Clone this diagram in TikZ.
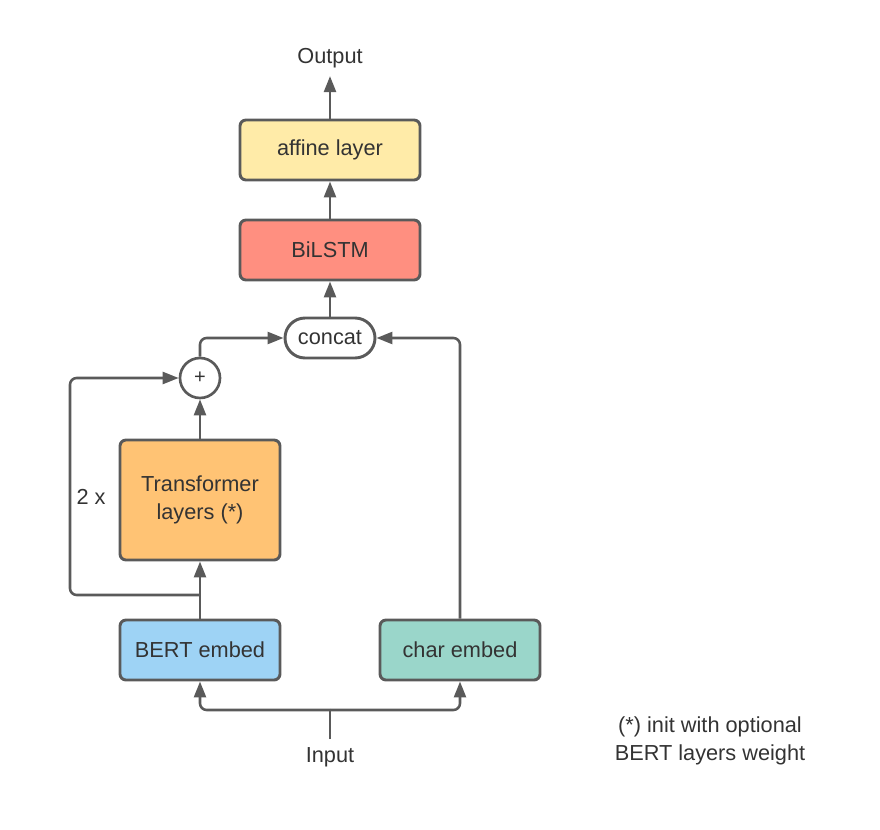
\documentclass[tikz,border=0pt]{standalone}
\usepackage{fontspec}
\setmainfont{Liberation Sans}
\usetikzlibrary{arrows.meta}

\definecolor{linegray}{HTML}{5A5A5A}
\definecolor{textgray}{HTML}{333333}
\definecolor{affinefill}{HTML}{FFEBA8}
\definecolor{lstmfill}{HTML}{FF8F80}
\definecolor{transfill}{HTML}{FFC374}
\definecolor{bertfill}{HTML}{9ED3F5}
\definecolor{charfill}{HTML}{9AD6CA}

\begin{document}
\begin{tikzpicture}[x=0.75pt, y=-0.75pt,
    every node/.style={text=textgray, font=\fontsize{16.3}{20.5}\selectfont},
    block/.style={draw=linegray, line width=2.2pt, rounded corners=4.5pt,
        minimum width=120pt, minimum height=45pt, align=center},
    pill/.style={draw=linegray, line width=2.2pt, rounded corners=15pt,
        minimum width=67.5pt, minimum height=30pt, fill=white},
    sumnode/.style={draw=linegray, line width=2pt, circle, minimum size=30pt,
        inner sep=0pt, font=\fontsize{15}{15}\selectfont},
    line/.style={draw=linegray, line width=1.9pt, rounded corners=5pt},
    conn/.style={line, -{Triangle[length=12pt, width=9pt]}}]
    \useasboundingbox (0,0) rectangle (880,830);

    % blocks
    \node[block, fill=affinefill, minimum width=135pt] (affine) at (330,150) {affine layer};
    \node[block, fill=lstmfill, minimum width=135pt] (lstm) at (330,250) {BiLSTM};
    \node[pill] (concat) at (330,338) {concat};
    \node[sumnode] (plus) at (200,378) {+};
    \node[block, fill=transfill, minimum height=90pt] (trans) at (200,500) {Transformer\\layers (*)};
    \node[block, fill=bertfill] (bert) at (200,650) {BERT embed};
    \node[block, fill=charfill] (char) at (460,650) {char embed};

    % labels
    \node[inner sep=6pt] (output) at (330,58) {Output};
    \node[inner sep=6pt] (input) at (330,757) {Input};
    \node (times) at (91,497) {2 x};
    \node[align=center] (note) at (710,741) {(*) init with optional\\BERT layers weight};

    \coordinate (split) at (330,710);
    \coordinate (skip) at (200,595);
    \coordinate (loopcorner) at (70,595);

    % connectors
    \draw[line] (input.north) -- (split);
    \draw[conn] (split) -| (bert.south);
    \draw[conn] (split) -| (char.south);
    \draw[conn] (bert.north) -- (trans.south);
    \draw[conn] (skip) -- (loopcorner) |- (plus.west);
    \draw[conn] (trans.north) -- (plus.south);
    \draw[conn] (plus.north) |- (concat.west);
    \draw[conn] (char.north) |- (concat.east);
    \draw[conn] (concat.north) -- (lstm.south);
    \draw[conn] (lstm.north) -- (affine.south);
    \draw[conn] (affine.north) -- (output.south);
\end{tikzpicture}
\end{document}
